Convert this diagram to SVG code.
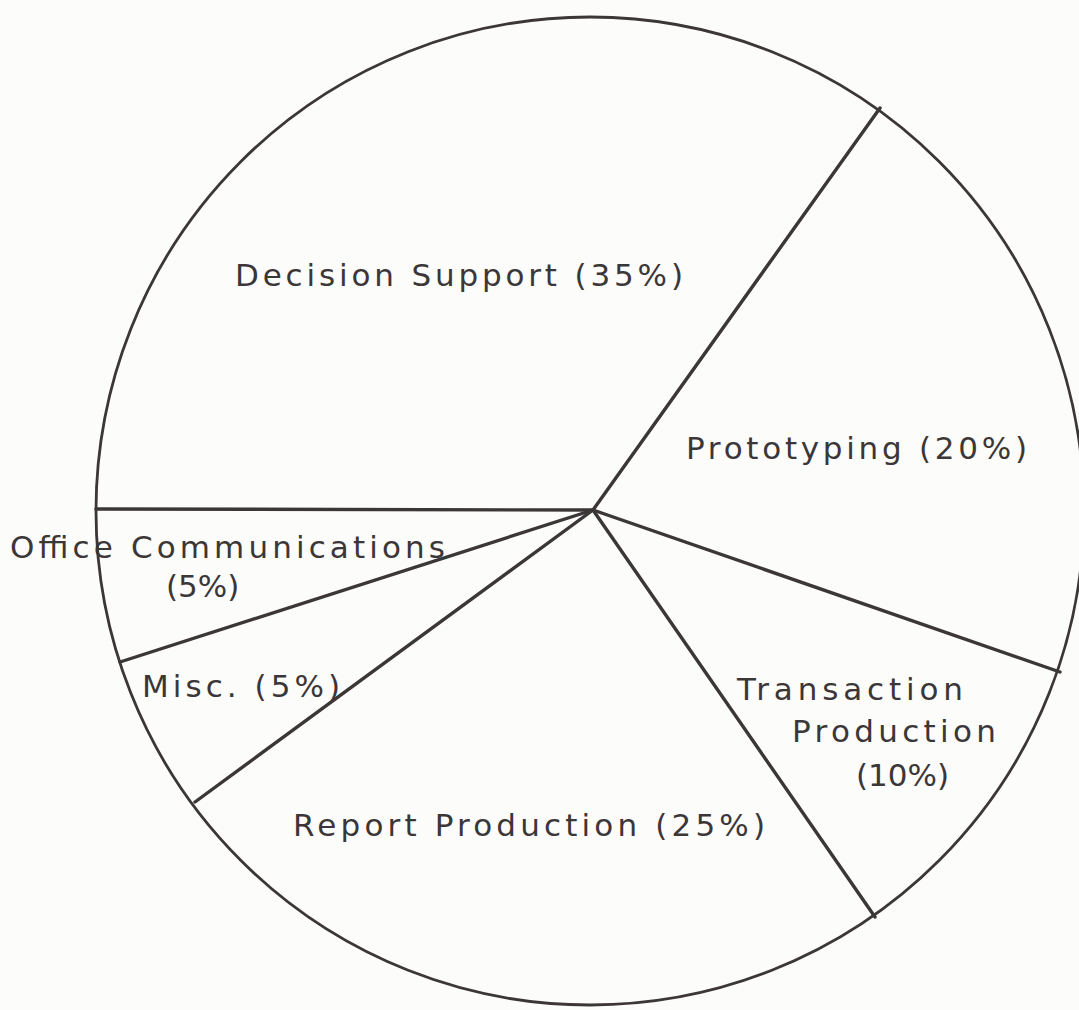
<svg xmlns="http://www.w3.org/2000/svg" width="1079" height="1010" viewBox="0 0 1079 1010">
<style>
.ln{stroke:#3b3637;stroke-width:3.4;fill:none;stroke-linecap:round}
.rim{stroke:#3b3637;stroke-width:2.8;fill:none}
.t{font-family:"DejaVu Sans","Liberation Sans",sans-serif;font-size:31px;fill:#3b3637}
</style>
<rect width="1079" height="1010" fill="#fcfcfa"/>
<g id="pie">
<circle class="rim" cx="590" cy="511" r="494"/>
</g>
<g id="connectors">
<line class="ln" x1="593" y1="510" x2="880" y2="108"/>
<line class="ln" x1="593" y1="510" x2="96" y2="509"/>
<line class="ln" x1="593" y1="510" x2="1060" y2="672"/>
<line class="ln" x1="593" y1="510" x2="875" y2="917"/>
<line class="ln" x1="593" y1="510" x2="195" y2="802"/>
<line class="ln" x1="593" y1="510" x2="120" y2="662"/>
</g>
<g id="decision-support"><text class="t" x="235" y="286" textLength="448" lengthAdjust="spacing">Decision Support (35%)</text></g>
<g id="prototyping"><text class="t" x="686" y="459" textLength="341" lengthAdjust="spacing">Prototyping (20%)</text></g>
<g id="office-communications">
<text class="t" x="10" y="558" textLength="435" lengthAdjust="spacing">Office Communications</text>
<text class="t" x="166" y="597">(5%)</text>
</g>
<g id="misc"><text class="t" x="142" y="697" textLength="198" lengthAdjust="spacing">Misc. (5%)</text></g>
<g id="transaction-production">
<text class="t" x="737" y="700" textLength="226" lengthAdjust="spacing">Transaction</text>
<text class="t" x="792" y="742" textLength="204" lengthAdjust="spacing">Production</text>
<text class="t" x="856" y="786">(10%)</text>
</g>
<g id="report-production"><text class="t" x="293" y="836" textLength="472" lengthAdjust="spacing">Report Production (25%)</text></g>
</svg>
